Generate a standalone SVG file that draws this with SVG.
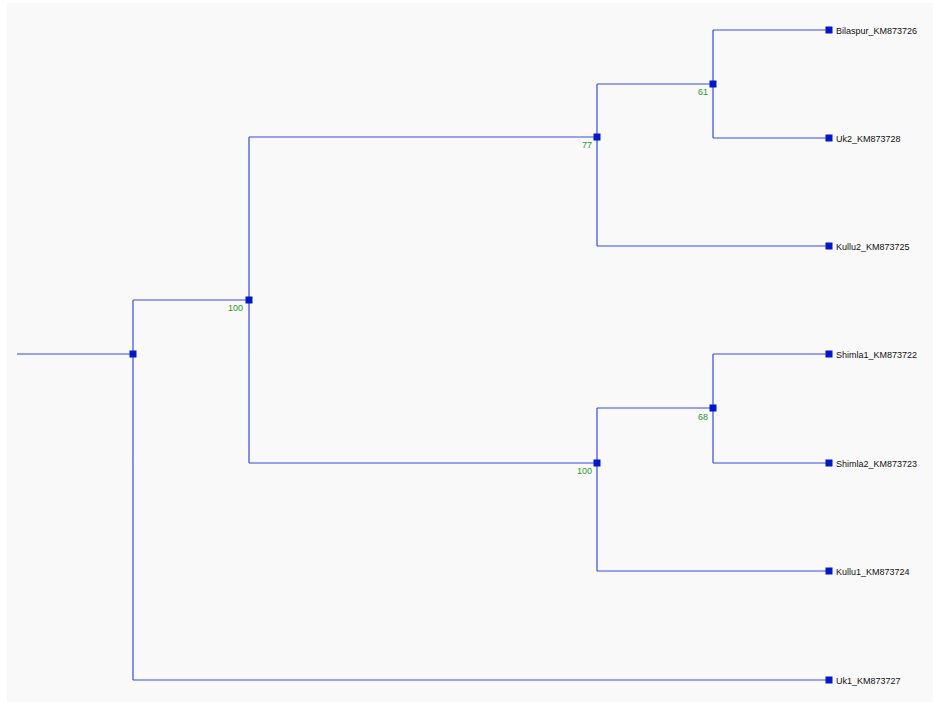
<svg xmlns="http://www.w3.org/2000/svg" width="933" height="702" viewBox="0 0 933 702">
<style>
.br{fill:none;stroke:#3a4ae0;stroke-width:1.2}
.nd{fill:#0018c8}
.lf{font-family:"Liberation Sans",Arial,sans-serif;font-size:9px;fill:#111}
.bs{font-family:"Liberation Sans",Arial,sans-serif;font-size:9px;fill:#2a9a2a;text-anchor:end}
</style>
<rect x="0" y="0" width="933" height="702" fill="#ffffff"/>
<rect x="7" y="3" width="926" height="699" fill="#f9f9f9"/>
<g id="connectors">
<path class="br" d="M17,354H133M133,300V680M133,300H249M133,680H829M249,137V463M249,137H597M249,463H597M597,84V246M597,84H713M597,246H829M713,30V138M713,30H829M713,138H829M597,408V571M597,408H713M597,571H829M713,354V463M713,354H829M713,463H829"/>
</g>
<g id="n_root"><rect class="nd" x="129.5" y="350.5" width="7" height="7"/></g>
<g id="n_100a"><rect class="nd" x="245.5" y="296.5" width="7" height="7"/><text class="bs" x="243" y="311">100</text></g>
<g id="n_77"><rect class="nd" x="593.5" y="133.5" width="7" height="7"/><text class="bs" x="592" y="148">77</text></g>
<g id="n_61"><rect class="nd" x="709.5" y="80.5" width="7" height="7"/><text class="bs" x="708" y="95">61</text></g>
<g id="n_100b"><rect class="nd" x="593.5" y="459.5" width="7" height="7"/><text class="bs" x="592" y="474">100</text></g>
<g id="n_68"><rect class="nd" x="709.5" y="404.5" width="7" height="7"/><text class="bs" x="708" y="420">68</text></g>
<g id="leaf_bilaspur"><rect class="nd" x="825.5" y="26.5" width="7" height="7"/><text class="lf" x="836" y="34">Bilaspur_KM873726</text></g>
<g id="leaf_uk2"><rect class="nd" x="825.5" y="134.5" width="7" height="7"/><text class="lf" x="836" y="142">Uk2_KM873728</text></g>
<g id="leaf_kullu2"><rect class="nd" x="825.5" y="242.5" width="7" height="7"/><text class="lf" x="836" y="250">Kullu2_KM873725</text></g>
<g id="leaf_shimla1"><rect class="nd" x="825.5" y="350.5" width="7" height="7"/><text class="lf" x="836" y="358">Shimla1_KM873722</text></g>
<g id="leaf_shimla2"><rect class="nd" x="825.5" y="459.5" width="7" height="7"/><text class="lf" x="836" y="467">Shimla2_KM873723</text></g>
<g id="leaf_kullu1"><rect class="nd" x="825.5" y="567.5" width="7" height="7"/><text class="lf" x="836" y="575">Kullu1_KM873724</text></g>
<g id="leaf_uk1"><rect class="nd" x="825.5" y="676.5" width="7" height="7"/><text class="lf" x="836" y="684">Uk1_KM873727</text></g>
</svg>
